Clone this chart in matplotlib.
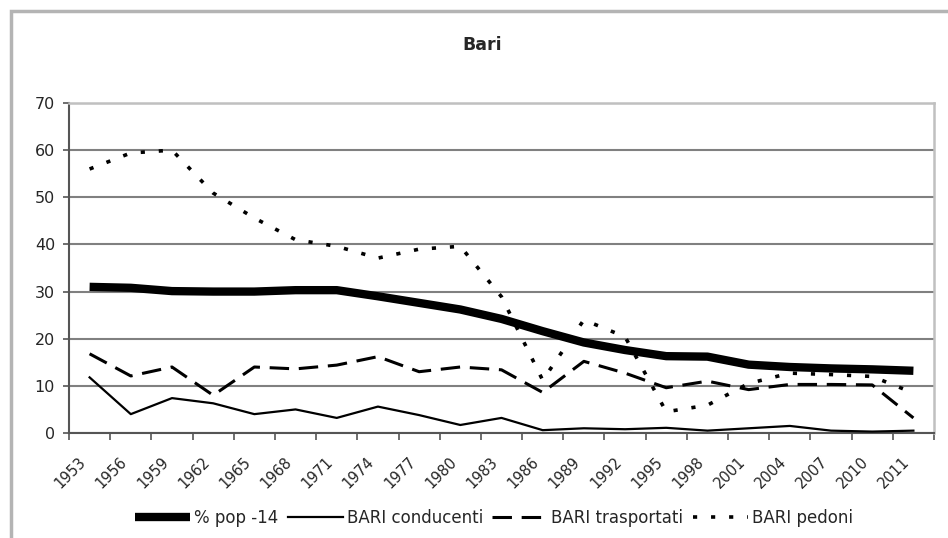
import matplotlib
matplotlib.use('Agg')
import matplotlib.pyplot as plt
from matplotlib.patches import Rectangle
from matplotlib.transforms import ScaledTranslation

# data
years = ['1953', '1956', '1959', '1962', '1965', '1968', '1971', '1974', '1977', '1980',
         '1983', '1986', '1989', '1992', '1995', '1998', '2001', '2004', '2007', '2010', '2011']
pop14 = [31, 30.8, 30.1, 30, 30, 30.3, 30.3, 29, 27.6, 26.2,
         24.2, 21.6, 19.2, 17.6, 16.3, 16.2, 14.5, 14, 13.7, 13.5, 13.2]
conducenti = [11.8, 4.0, 7.4, 6.3, 4.0, 5.0, 3.2, 5.6, 3.8, 1.7,
              3.2, 0.6, 1.0, 0.8, 1.1, 0.5, 1.0, 1.5, 0.5, 0.3, 0.5]
trasportati = [16.8, 12.1, 14.0, 8.0, 14.0, 13.6, 14.4, 16.2, 13.0, 14.0,
               13.4, 8.6, 15.2, 12.7, 9.6, 11.0, 9.2, 10.3, 10.3, 10.2, 3.2]
pedoni = [56, 59.4, 60, 50.9, 45.6, 41, 39.6, 37.1, 39, 39.6,
          28.9, 11.2, 24, 20.4, 4.5, 5.9, 10.5, 12.7, 12.4, 12.0, 8.5]
series_names = ['% pop -14', 'BARI conducenti', 'BARI trasportati', 'BARI pedoni']

plt.rcParams['font.family'] = 'DejaVu Sans'
plt.rcParams['lines.scale_dashes'] = False
txt = '#262626'

fig = plt.figure(figsize=(9.48, 5.38), dpi=100)
ax = fig.add_axes([69 / 948, 105 / 538, 865 / 948, 330 / 538])

x = list(range(len(years)))
ax.plot(x, pop14, color='black', lw=6, solid_capstyle='butt', label=series_names[0], zorder=5)
ax.plot(x, conducenti, color='black', lw=1.6, label=series_names[1], zorder=4)
ax.plot(x, trasportati, color='black', lw=2.2, dashes=(14, 7), dash_capstyle='butt',
        label=series_names[2], zorder=4)
ax.plot(x, pedoni, color='black', lw=2.6, dashes=(3, 10), dash_capstyle='butt',
        label=series_names[3], zorder=4)

ax.set_xlim(-0.5, len(years) - 0.5)
ax.set_ylim(0, 70)
ax.set_yticks(range(0, 71, 10))
ax.grid(axis='y', color='#808080', lw=1.5)
ax.set_axisbelow(True)

ax.set_xticks(x)
ax.set_xticks([i - 0.5 for i in range(len(years) + 1)], minor=True)
ax.set_xticklabels(years, rotation=45, ha='right', va='center', rotation_mode='anchor')
ax.tick_params(axis='x', which='major', length=0, pad=19, labelsize=10.5, labelcolor=txt)
ax.tick_params(axis='x', which='minor', length=5, width=1.2, direction='out', color='#555555')
ax.tick_params(axis='y', length=4, width=1.2, pad=6, labelsize=11.5, labelcolor=txt, color='#555555')
for lab in ax.get_xticklabels():
    lab.set_transform(lab.get_transform() + ScaledTranslation(-0.06, 0, fig.dpi_scale_trans))

for s in ['left', 'bottom']:
    ax.spines[s].set_color('#555555')
    ax.spines[s].set_linewidth(1.5)
for s in ['top', 'right']:
    ax.spines[s].set_color('#c0c0c0')
    ax.spines[s].set_linewidth(1.8)

fig.text(482 / 948, 1 - 45 / 538, 'Bari', ha='center', va='center',
         fontsize=12.5, fontweight='bold', color=txt)

fig.legend(loc='center', bbox_to_anchor=(494 / 948, 1 - 518 / 538), ncol=4, frameon=False,
           fontsize=12, handlelength=3.3, handletextpad=0.25, columnspacing=0.55,
           labelcolor=txt)

# outer chart border (only left and top fall inside the picture)
fig.patches.append(Rectangle((11 / 948, -0.1), 2, 1.1 - 11 / 538, transform=fig.transFigure,
                             fill=False, edgecolor='#b4b4b4', lw=2.5))

plt.savefig('out.png', dpi=100)
